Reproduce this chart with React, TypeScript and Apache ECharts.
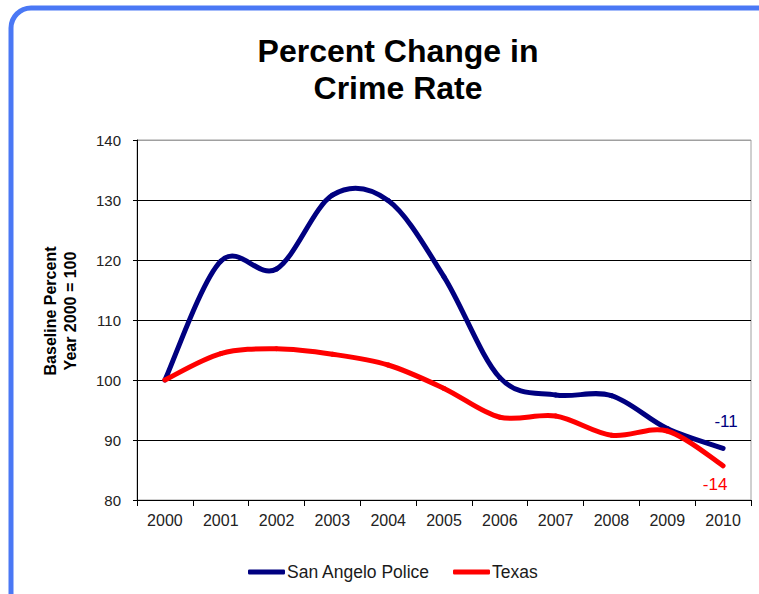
import React, { useEffect, useRef } from "react";
import * as echarts from "echarts";

const years = ["2000", "2001", "2002", "2003", "2004", "2005", "2006", "2007", "2008", "2009", "2010"];
const sanAngelo = [100, 119.8, 118.5, 130.8, 129.9, 117.2, 100.4, 97.5, 97.4, 91.9, 88.6];
const texas = [100, 104.4, 105.2, 104.3, 102.5, 98.6, 93.8, 94.0, 90.8, 91.5, 85.7];
const seriesNames = ["San Angelo Police", "Texas"];
const endLabels = ["-11", "-14"];
const titleText = "Percent Change in\nCrime Rate";
const yAxisName = "Baseline Percent\nYear 2000 = 100";

const FONT = "'Liberation Sans', Arial, Helvetica, sans-serif";
const BLUE = "#000080";
const RED = "#ff0000";

function smoothRenderer(arr: number[], color: string, label: string, dx: number, dy: number) {
  return (params: any, api: any) => {
    const i = params.dataIndex;
    const n = arr.length;
    const P = (k: number) => {
      const kk = Math.max(0, Math.min(n - 1, k));
      return api.coord([kk, arr[kk]]);
    };
    if (i === n - 1) {
      const p = P(i);
      return {
        type: "text",
        x: p[0] + dx,
        y: p[1] + dy,
        style: {
          text: label,
          fill: color,
          font: `17px ${FONT}`,
          textAlign: "center",
          textVerticalAlign: "middle",
        },
        z2: 10,
      };
    }
    const p0 = P(i - 1);
    const p1 = P(i);
    const p2 = P(i + 1);
    const p3 = P(i + 2);
    const t = 1 / 6;
    return {
      type: "bezierCurve",
      shape: {
        x1: p1[0],
        y1: p1[1],
        x2: p2[0],
        y2: p2[1],
        cpx1: p1[0] + (p2[0] - p0[0]) * t,
        cpy1: p1[1] + (p2[1] - p0[1]) * t,
        cpx2: p2[0] - (p3[0] - p1[0]) * t,
        cpy2: p2[1] - (p3[1] - p1[1]) * t,
      },
      style: { stroke: color, lineWidth: 5, fill: null, lineCap: "round" },
    };
  };
}

export default function App() {
  const ref = useRef<HTMLDivElement>(null);
  useEffect(() => {
    if (!ref.current) return;
    const chart = echarts.init(ref.current, null, { renderer: "svg" });
    chart.setOption({
      animation: false,
      backgroundColor: "#ffffff",
      title: {
        text: titleText,
        left: 393,
        top: 27,
        textAlign: "center",
        textStyle: {
          fontFamily: FONT,
          fontWeight: "bold",
          fontSize: 32,
          lineHeight: 37,
          color: "#000",
        },
      },
      graphic: [
        {
          type: "rect",
          shape: { x: 11, y: 8, width: 780, height: 640, r: 20 },
          style: { fill: "none", stroke: "#4a78f5", lineWidth: 5 },
          z: 100,
        },
        {
          type: "text",
          x: 60,
          y: 311,
          rotation: Math.PI / 2,
          style: {
            text: yAxisName,
            font: `bold 16px ${FONT}`,
            textAlign: "center",
            textVerticalAlign: "middle",
            lineHeight: 20,
            fill: "#000",
          },
        },
      ],
      legend: {
        left: 243,
        top: 558,
        itemWidth: 37,
        itemHeight: 5,
        itemGap: 23,
        icon: "roundRect",
        textStyle: { fontFamily: FONT, fontSize: 17.5, color: "#1a1a1a", padding: [0, 0, 0, -3] },
        data: seriesNames,
      },
      grid: {
        left: 137,
        right: 8,
        top: 140,
        bottom: 94,
        show: true,
        borderColor: "#a0a0a0",
        borderWidth: 1,
        backgroundColor: "#fff",
      },
      xAxis: {
        type: "category",
        data: years,
        boundaryGap: true,
        axisLine: { lineStyle: { color: "#000", width: 1 } },
        axisTick: { show: true, length: 6, lineStyle: { color: "#000" } },
        axisLabel: { fontFamily: FONT, fontSize: 16, color: "#222", margin: 12 },
      },
      yAxis: {
        type: "value",
        min: 80,
        max: 140,
        interval: 10,
        axisLine: { show: true, lineStyle: { color: "#000", width: 1 } },
        axisTick: { show: true, length: 4, lineStyle: { color: "#000" } },
        axisLabel: { fontFamily: FONT, fontSize: 15, color: "#222", margin: 16 },
        splitLine: {
          show: true,
          lineStyle: { color: ["#000", "#000", "#000", "#000", "#000", "#000", "#a0a0a0"], width: 1 },
        },
      },
      series: [
        {
          name: seriesNames[0],
          type: "custom",
          data: sanAngelo.map((v, i) => [i, v]),
          encode: { x: 0, y: 1 },
          renderItem: smoothRenderer(sanAngelo, BLUE, endLabels[0], 3, -27),
          itemStyle: { color: BLUE },
          z: 3,
        },
        {
          name: seriesNames[1],
          type: "custom",
          data: texas.map((v, i) => [i, v]),
          encode: { x: 0, y: 1 },
          renderItem: smoothRenderer(texas, RED, endLabels[1], -8, 19),
          itemStyle: { color: RED },
          z: 4,
        },
      ],
    });
    return () => chart.dispose();
  }, []);
  return (
    <div
      ref={ref}
      style={{ position: "absolute", left: 0, top: 0, width: 759, height: 594 }}
    />
  );
}
